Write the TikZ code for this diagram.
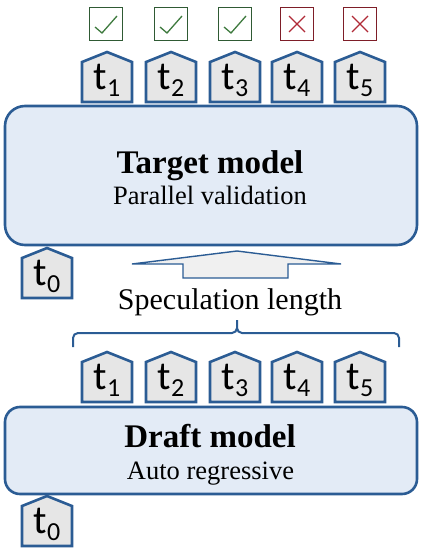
\documentclass[tikz,border=0pt]{standalone}
\usepackage{fontspec}
\setmainfont{Liberation Serif}
\newfontfamily\tokfont{Carlito}
\usetikzlibrary{positioning}

\definecolor{edgeblue}{HTML}{2B5C94}
\definecolor{boxfill}{HTML}{E3EBF6}
\definecolor{tokfill}{HTML}{E6E6E6}
\definecolor{okgreen}{HTML}{3E7A3E}
\definecolor{okframe}{HTML}{2F5A34}
\definecolor{badred}{HTML}{B02A37}
\definecolor{badframe}{HTML}{7E1E28}

\newcommand{\tokname}[1]{{\tokfont\fontsize{40}{40}\selectfont t\raisebox{-7pt}{\fontsize{26}{26}\selectfont #1}}}

\tikzset{
    model/.style={draw=edgeblue, fill=boxfill, line width=2.6pt, inner sep=0pt},
    tokenshape/.style={draw=edgeblue, fill=tokfill, line width=2.6pt, line join=miter},
    pics/token/.style={code={
        \draw[tokenshape] (-25,0) -- (-25,-40) -- (0,-50) -- (25,-40) -- (25,0) -- cycle;
        \node[anchor=base, inner sep=0pt] (-label) at (0,-13) {\tokname{#1}};
    }},
    okbox/.style={draw=okframe, line width=1.4pt, minimum size=33pt, inner sep=0pt},
    badbox/.style={draw=badframe, line width=1.4pt, minimum size=33pt, inner sep=0pt},
    okmark/.style={draw=okgreen, line width=1.3pt},
    badmark/.style={draw=badred, line width=1.3pt},
    bodytext/.style={anchor=base, inner sep=0pt},
}

\begin{document}
\begin{tikzpicture}[x=1pt, y=-1pt]
    \useasboundingbox (0,0) rectangle (424,554);

    % Validation results
    \foreach \x [count=\i] in {106,171,235} {
        \node[okbox] (ok\i) at (\x,24) {};
        \draw[okmark] ([shift={(-11,3)}]ok\i.center) -- ([shift={(-4,9)}]ok\i.center) -- ([shift={(11,-8)}]ok\i.center);
    }
    \foreach \x [count=\i from 4] in {297,360} {
        \node[badbox] (bad\i) at (\x,24) {};
        \draw[badmark] ([shift={(-8,-8)}]bad\i.center) -- ([shift={(8,8)}]bad\i.center);
        \draw[badmark] ([shift={(-8,8)}]bad\i.center) -- ([shift={(8,-8)}]bad\i.center);
    }

    % Target model
    \foreach \x [count=\i] in {107,171,235,297,360} {
        \pic (top\i) at (\x,102) {token=\i};
    }
    \node[model, rounded corners=20pt, minimum width=412pt, minimum height=139pt] (target) at (211,175.5) {};
    \node[bodytext, font=\fontsize{33}{33}\selectfont\bfseries] (targetname) at (210,173) {Target model};
    \node[bodytext, font=\fontsize{26.5}{26.5}\selectfont] (targetsub) at (210,204) {Parallel validation};
    \pic (topzero) at (47,298) {token=0};

    % Speculation length
    \draw[draw=edgeblue, fill=tokfill!60!white, line width=1.4pt, line join=miter]
        (183,278) -- (183,264) -- (132,264) -- (237,251) -- (341,264) -- (288,264) -- (288,278) -- cycle;
    \node[bodytext, font=\fontsize{30}{30}\selectfont] (speclen) at (230,309) {Speculation length};
    \draw[edgeblue, line width=2pt, rounded corners=5pt]
        (73,347) -- (73,333) -- (237,333) -- (237,320)
        (399,347) -- (399,333) -- (237,333) -- (237,320);

    % Draft model
    \foreach \x [count=\i] in {107,171,235,297,360} {
        \pic (low\i) at (\x,402) {token=\i};
    }
    \node[model, rounded corners=15pt, minimum width=412pt, minimum height=87pt] (draft) at (211,450.5) {};
    \node[bodytext, font=\fontsize{33}{33}\selectfont\bfseries] (draftname) at (210,447) {Draft model};
    \node[bodytext, font=\fontsize{26.5}{26.5}\selectfont] (draftsub) at (210.5,479) {Auto regressive};
    \pic (lowzero) at (47,546) {token=0};
\end{tikzpicture}
\end{document}
